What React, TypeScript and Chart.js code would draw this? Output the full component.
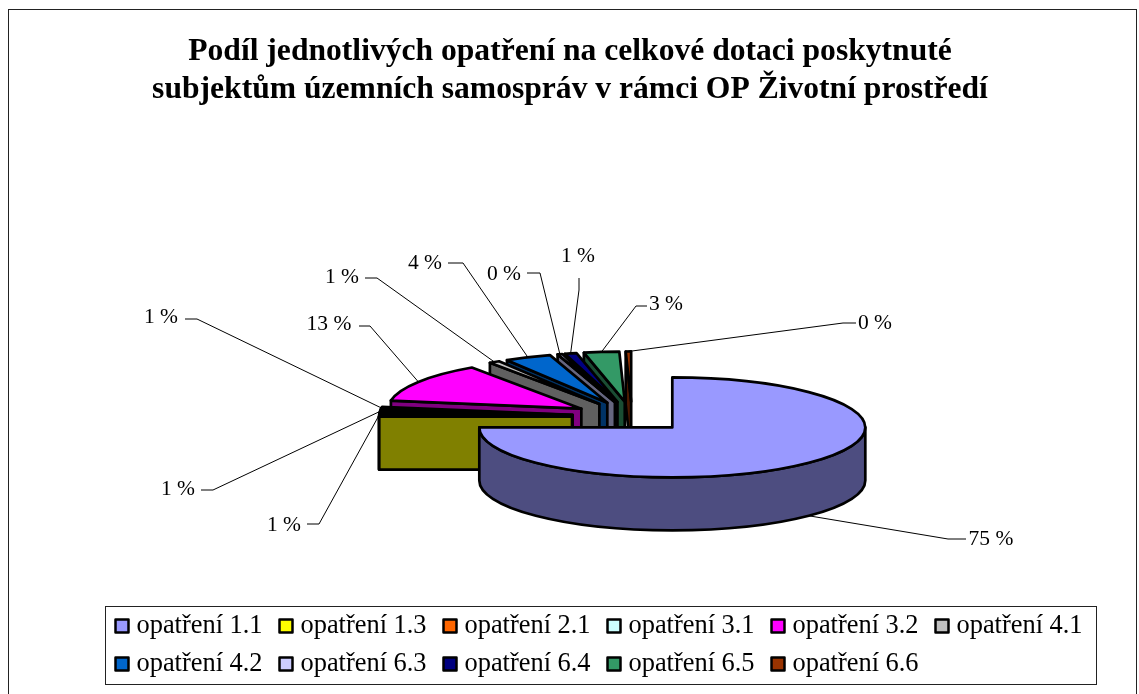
import React, { useEffect, useRef } from "react";
import { Chart, registerables } from "chart.js";

Chart.register(...registerables);

const categories = ["opatření 1.1","opatření 1.3","opatření 2.1","opatření 3.1","opatření 3.2","opatření 4.1","opatření 4.2","opatření 6.3","opatření 6.4","opatření 6.5","opatření 6.6"];
const shares = [75, 0.9, 0.9, 0.8, 12.8, 0.9, 3.9, 0.4, 1.0, 2.95, 0.45];
const percentLabels = ["75 %","1 %","1 %","1 %","13 %","1 %","4 %","0 %","1 %","3 %","0 %"];
const topColors = ["#9999FF","#FFFF00","#FF6600","#CCFFFF","#FF00FF","#C0C0C0","#0066CC","#CCCCFF","#000080","#339966","#993300"];
const sideColors = ["#4D4D80","#808000","#803300","#668080","#800080","#606060","#003366","#666680","#000040","#1A4D33","#4D1A00"];
const titleLines = ["Podíl jednotlivých opatření na celkové dotaci poskytnuté","subjektům územních samospráv v rámci OP Životní prostředí"];

// Layout of the data labels: [text centre x, text y, elbow x, elbow y, line end x, line end y]
const labelLayout = [
  [991,539,948,539,966,539],
  [284,525,319,524,307,524],
  [178,489,213,490,201,490],
  [161,317,197,319,185,319],
  [329,324,370,326,359,326],
  [342,277,377,278,365,278],
  [425,263,463,263,448,263],
  [504,274,540,273,527,273],
  [578,256,579,290,579,278],
  [666,304,636,306,647,306],
  [875,323,843,323,856,323],
];

const SQUASH = 0.259;
const DEPTH = 53;
const SERIF = "'Liberation Serif'";

const pie3d = {
  id: "pie3d",
  beforeDraw(chart: any) {
    const { ctx } = chart;
    ctx.save();
    ctx.fillStyle = "#fff";
    ctx.fillRect(0, 0, 1139, 694);
    ctx.strokeStyle = "#222";
    ctx.lineWidth = 1;
    ctx.strokeRect(8.5, 9.5, 1128, 700);
    ctx.fillStyle = "#000";
    ctx.font = `bold 31.6px ${SERIF}`;
    ctx.textAlign = "center";
    ctx.textBaseline = "middle";
    titleLines.forEach((line, i) => ctx.fillText(line, 570, 52 + i * 38));
    ctx.restore();
  },
  beforeDatasetsDraw(chart: any) {
    const { ctx } = chart;
    const arcs = chart.getDatasetMeta(0).data;
    const geo = arcs.map((el: any) => {
      const p = el.getProps(["x", "y", "startAngle", "endAngle", "outerRadius"], true);
      const mid = (p.startAngle + p.endAngle) / 2;
      const off = el.options.offset || 0;
      const cx = p.x + Math.cos(mid) * off;
      const cy = p.y + Math.sin(mid) * off * SQUASH;
      return { cx, cy, r: p.outerRadius, a0: p.startAngle, a1: p.endAngle, mid };
    });

    ctx.save();
    ctx.lineJoin = "round";
    ctx.strokeStyle = "#000";
    ctx.lineWidth = 2.7;

    const pt = (g: any, a: number, dy = 0) => [g.cx + g.r * Math.cos(a), g.cy + g.r * SQUASH * Math.sin(a) + dy];
    const wall = (g: any, a: number, color: string) => {
      const e = pt(g, a);
      ctx.beginPath();
      ctx.moveTo(g.cx, g.cy);
      ctx.lineTo(e[0], e[1]);
      ctx.lineTo(e[0], e[1] + DEPTH);
      ctx.lineTo(g.cx, g.cy + DEPTH);
      ctx.closePath();
      ctx.fillStyle = color;
      ctx.fill();
      ctx.stroke();
    };

    const order = geo.map((_: any, i: number) => i).reverse();
    order.pop();
    order.push(0);
    for (const i of order) {
      const g = geo[i];
      // Radial walls turned towards the viewer
      if (Math.sin(g.a1 + Math.PI / 2) > 1e-6) wall(g, g.a1, sideColors[i]);
      if (Math.sin(g.a0 + Math.PI / 2) < -1e-6) wall(g, g.a0, sideColors[i]);
      // Outer wall: the part of the rim on the near half
      const from = Math.max(g.a0, 0);
      const to = Math.min(g.a1, Math.PI);
      if (to > from) {
        const s = pt(g, from);
        const e = pt(g, to);
        ctx.beginPath();
        ctx.ellipse(g.cx, g.cy, g.r, g.r * SQUASH, 0, from, to);
        ctx.lineTo(e[0], e[1] + DEPTH);
        ctx.ellipse(g.cx, g.cy + DEPTH, g.r, g.r * SQUASH, 0, to, from, true);
        ctx.lineTo(s[0], s[1]);
        ctx.closePath();
        ctx.fillStyle = sideColors[i];
        ctx.fill();
        ctx.stroke();
      }
      // Top face
      ctx.beginPath();
      ctx.moveTo(g.cx, g.cy);
      ctx.ellipse(g.cx, g.cy, g.r, g.r * SQUASH, 0, g.a0, g.a1);
      ctx.closePath();
      ctx.fillStyle = topColors[i];
      ctx.fill();
      ctx.stroke();
    }
    ctx.restore();

    // Leader lines and labels
    ctx.save();
    ctx.fillStyle = "#000";
    ctx.strokeStyle = "#000";
    ctx.lineWidth = 1;
    ctx.font = `21.5px ${SERIF}`;
    ctx.textAlign = "center";
    ctx.textBaseline = "middle";
    geo.forEach((g: any, i: number) => {
      const [tx, ty, ex, ey, lx, ly] = labelLayout[i];
      const a = pt(g, g.mid, Math.sin(g.mid) > 0 ? DEPTH : 0);
      ctx.beginPath();
      ctx.moveTo(a[0], a[1]);
      ctx.lineTo(ex, ey);
      ctx.lineTo(lx, ly);
      ctx.stroke();
      ctx.fillText(percentLabels[i], tx, ty);
    });
    ctx.restore();

    // Legend
    ctx.save();
    ctx.strokeStyle = "#222";
    ctx.lineWidth = 1;
    ctx.strokeRect(105.5, 606.5, 991, 78);
    ctx.font = `26.4px ${SERIF}`;
    ctx.textAlign = "left";
    ctx.textBaseline = "middle";
    categories.forEach((name, i) => {
      const col = i % 6;
      const row = Math.floor(i / 6);
      const x = 115.5 + col * 164;
      const y = 626 + row * 38;
      ctx.fillStyle = topColors[i];
      ctx.strokeStyle = "#000";
      ctx.lineWidth = 2.5;
      ctx.lineJoin = "round";
      ctx.fillRect(x, y - 6.5, 13, 13);
      ctx.strokeRect(x, y - 6.5, 13, 13);
      ctx.fillStyle = "#000";
      ctx.fillText(name, x + 21, y);
    });
    ctx.restore();
    return false;
  },
};

export default function App() {
  const ref = useRef<HTMLCanvasElement>(null);
  useEffect(() => {
    document.body.style.margin = "0";
    const chart = new Chart(ref.current!, {
      type: "pie",
      data: {
        labels: categories,
        datasets: [{
          data: shares,
          backgroundColor: topColors,
          borderWidth: 0,
          offset: (c: any) => (c.dataIndex === 0 ? 57 : 60),
        }],
      },
      plugins: [pie3d],
      options: {
        animation: false,
        responsive: false,
        events: [],
        radius: 193,
        layout: { padding: { left: 125, top: 140, right: 0, bottom: 0 } },
        plugins: {
          legend: { display: false },
          tooltip: { enabled: false },
          title: { display: false },
        },
      },
    } as any);
    return () => chart.destroy();
  }, []);
  return (
    <div style={{ position: "fixed", left: 0, top: 0, width: 1139, height: 694, background: "#fff" }}>
      <canvas ref={ref} width={1139} height={694} style={{ display: "block" }} />
    </div>
  );
}
